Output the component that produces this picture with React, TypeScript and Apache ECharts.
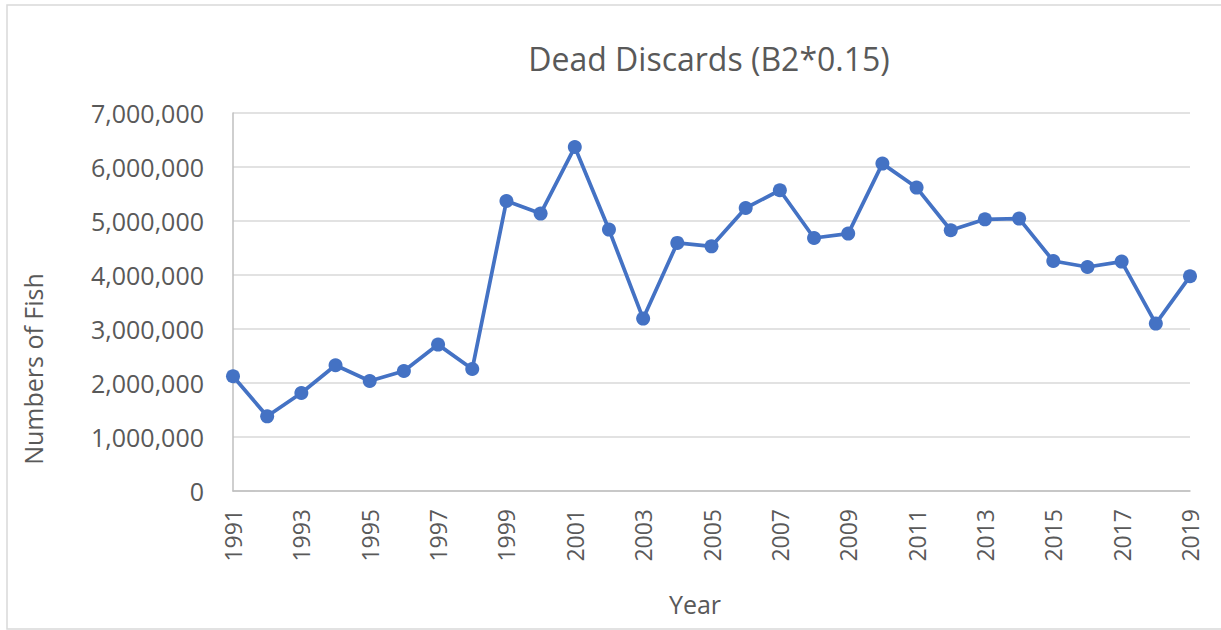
import React, { useEffect, useRef } from "react";
import * as echarts from "echarts";

const years: string[] = [
  "1991","1992","1993","1994","1995","1996","1997","1998","1999","2000",
  "2001","2002","2003","2004","2005","2006","2007","2008","2009","2010",
  "2011","2012","2013","2014","2015","2016","2017","2018","2019",
];

const deadDiscards: number[] = [
  2124000, 1383000, 1815000, 2328000, 2037000, 2222000, 2711000, 2259000, 5370000, 5137000,
  6370000, 4841000, 3193000, 4594000, 4531000, 5241000, 5569000, 4685000, 4767000, 6063000,
  5619000, 4828000, 5031000, 5044000, 4259000, 4148000, 4248000, 3100000, 3976000,
];

const titleText = "Dead Discards (B2*0.15)";
const yAxisTitle = "Numbers of Fish";
const xAxisTitle = "Year";

const FONT = "'Open Sans', sans-serif";
const TEXT_COLOR = "#595959";

export default function App() {
  const ref = useRef<HTMLDivElement>(null);

  useEffect(() => {
    if (!ref.current) return;
    const chart = echarts.init(ref.current, null, { renderer: "svg" });
    chart.setOption({
      animation: false,
      backgroundColor: "#ffffff",
      grid: { left: 233, right: 31, top: 113, bottom: 139, containLabel: false },
      xAxis: {
        type: "category",
        data: years,
        boundaryGap: false,
        axisLine: { show: true, lineStyle: { color: "#bfbfbf", width: 1.5 } },
        axisTick: { show: false },
        axisLabel: {
          interval: 1,
          rotate: 90,
          margin: 18,
          color: TEXT_COLOR,
          fontFamily: FONT,
          fontSize: 23,
        },
        splitLine: { show: false },
      },
      yAxis: {
        type: "value",
        min: 0,
        max: 7000000,
        interval: 1000000,
        axisLine: { show: true, lineStyle: { color: "#bfbfbf", width: 1.5 } },
        axisTick: { show: false },
        axisLabel: {
          margin: 29,
          color: TEXT_COLOR,
          fontFamily: FONT,
          fontSize: 25,
          formatter: (v: number) => v.toLocaleString("en-US"),
        },
        splitLine: { show: true, lineStyle: { color: "#d9d9d9", width: 1.5 } },
      },
      series: [
        {
          type: "line",
          data: deadDiscards,
          symbol: "circle",
          symbolSize: 14,
          lineStyle: { color: "#4472C4", width: 3.75 },
          itemStyle: { color: "#4472C4" },
        },
      ],
      graphic: [
        {
          type: "rect",
          shape: { x: 7, y: 5, width: 1230, height: 624 },
          style: { fill: "none", stroke: "#d9d9d9", lineWidth: 1.5 },
          silent: true,
        },
        {
          type: "text",
          x: 709,
          y: 58,
          style: {
            text: titleText,
            fill: TEXT_COLOR,
            font: `32px ${FONT}`,
            textAlign: "center",
            textVerticalAlign: "middle",
          },
        },
        {
          type: "text",
          x: 33,
          y: 369,
          rotation: Math.PI / 2,
          style: {
            text: yAxisTitle,
            fill: TEXT_COLOR,
            font: `25px ${FONT}`,
            textAlign: "center",
            textVerticalAlign: "middle",
          },
        },
        {
          type: "text",
          x: 695,
          y: 604,
          style: {
            text: xAxisTitle,
            fill: TEXT_COLOR,
            font: `25px ${FONT}`,
            textAlign: "center",
            textVerticalAlign: "middle",
          },
        },
      ],
    });
    return () => chart.dispose();
  }, []);

  return (
    <div
      ref={ref}
      style={{ position: "absolute", left: 0, top: 0, width: 1221, height: 630 }}
    />
  );
}
